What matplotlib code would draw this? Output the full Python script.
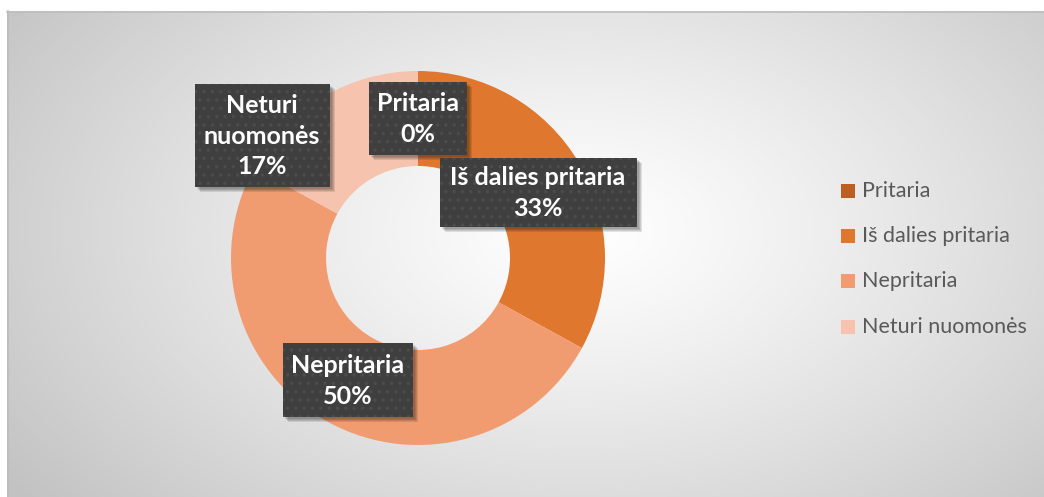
import numpy as np
import matplotlib
matplotlib.use("Agg")
import matplotlib.pyplot as plt
from matplotlib.patches import Rectangle

# ---- data ----
categories = ["Pritaria", "Iš dalies pritaria", "Nepritaria", "Neturi nuomonės"]
values = [0, 33, 50, 17]
colors = ["#BC5F22", "#E0772F", "#F19B70", "#F6C3AF"]

W, H, DPI = 1044, 497, 100
plt.rcParams['font.family'] = ['Lato', 'DejaVu Sans']

fig = plt.figure(figsize=(W / DPI, H / DPI), dpi=DPI)
fig.patch.set_facecolor("white")

# ---- background (radial gradient chart area) ----
bg = fig.add_axes([0, 0, 1, 1])
bg.set_xlim(0, W)
bg.set_ylim(H, 0)
bg.axis("off")
x0, y0 = 7, 11
yy, xx = np.mgrid[y0:H, x0:W]
cx, cy = 580, 230
d = np.sqrt(((xx - cx) / 560.0) ** 2 + ((yy - cy) / 340.0) ** 2) / np.sqrt(1 + (265 / 340.0) ** 2)
d = np.clip(d, 0, 1)
g = 1.0 - (1.0 - 0xC2 / 255.0) * d ** 1.2
img = np.dstack([g, g, g])
bg.imshow(img, extent=(x0, W, H, y0), interpolation="bilinear", zorder=0)
bg.plot([x0, W], [y0 + 0.5, y0 + 0.5], color="#BDBDBD", lw=1.2, zorder=1)
bg.plot([x0 + 0.5, x0 + 0.5], [y0, H], color="#BDBDBD", lw=1.2, zorder=1)

# ---- donut ----
ccx, ccy, R = 418, 258, 187
half = 240
ax = fig.add_axes([(ccx - half) / W, (H - ccy - half) / H, 2 * half / W, 2 * half / H])
ax.set_xlim(-half, half)
ax.set_ylim(-half, half)
ax.set_aspect("equal")
ax.axis("off")
ax.patch.set_alpha(0)
wedges, _ = ax.pie(values, colors=colors, startangle=90, counterclock=False,
                   radius=R, wedgeprops=dict(width=R - 92, linewidth=0))
ax.set_xlim(-half, half)
ax.set_ylim(-half, half)

# ---- data labels (boxes) ----
# (center offset from donut center in px, box width, box height)
label_layout = [((0, 140), 98, 73),
                ((120, 66), 197, 69),
                ((-70, -122), 130, 74),
                ((-156, 123), 135, 103)]
label_texts = ["Pritaria\n{}%", "Iš dalies pritaria\n{}%", "Nepritaria\n{}%", "Neturi\nnuomonės\n{}%"]

plt.rcParams['hatch.linewidth'] = 1.2
for (pos, bw, bh), t, v in zip(label_layout, label_texts, values):
    px, py = pos
    # shadow
    for k, a in enumerate([0.10, 0.10, 0.10, 0.10]):
        off = 2 + k
        ax.add_patch(Rectangle((px - bw / 2 + off, py - bh / 2 - off), bw, bh,
                               facecolor="black", edgecolor="none", alpha=a,
                               clip_on=False, zorder=5))
    ax.add_patch(Rectangle((px - bw / 2, py - bh / 2), bw, bh, facecolor="#3F3F3F",
                           edgecolor="none", clip_on=False, zorder=6))
    ax.add_patch(Rectangle((px - bw / 2, py - bh / 2), bw, bh, facecolor="none",
                           edgecolor="#4C4C4C", linewidth=0, hatch="..",
                           clip_on=False, zorder=6.5))
    ax.text(px, py - 1, t.format(v), ha="center", va="center", color="white",
            fontsize=18, fontweight="bold", linespacing=1.38, zorder=7,
            clip_on=False)

# ---- legend ----
leg_x, leg_y0, leg_dy, sq = 841, 191, 45.2, 14
for i, (c, lab) in enumerate(zip(colors, categories)):
    y = leg_y0 + i * leg_dy
    bg.add_patch(Rectangle((leg_x, y - sq / 2), sq, sq, facecolor=wedges[i].get_facecolor(),
                           edgecolor="none", zorder=3))
    bg.text(leg_x + 21, y, lab, ha="left", va="center", color="#595959",
            fontsize=15.5, zorder=3)

fig.savefig("out.png", dpi=DPI)
